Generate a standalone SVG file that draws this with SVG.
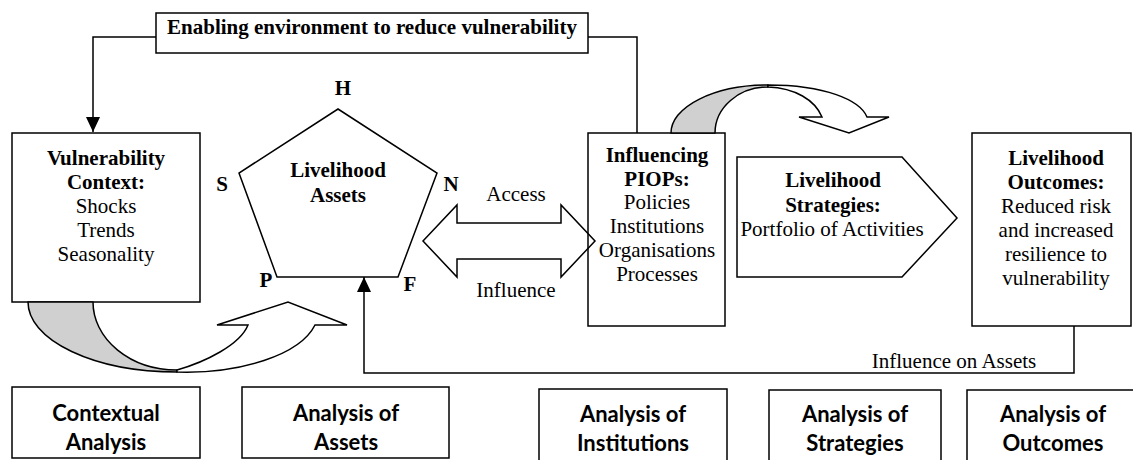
<svg xmlns="http://www.w3.org/2000/svg" width="1133" height="460" viewBox="0 0 1133 460">
  <style>
    .box { fill: #fff; stroke: #000; stroke-width: 1.5; }
    .ln { fill: none; stroke: #000; stroke-width: 1.5; }
    .shade { fill: #d0d0d0; stroke: #000; stroke-width: 1.5; stroke-linejoin: round; }
    .curl { fill: #fff; stroke: #000; stroke-width: 1.5; stroke-linejoin: miter; }
    .t { font-family: "Liberation Serif", "Times New Roman", serif; font-size: 21px; text-anchor: middle; fill: #000; }
    .b { font-weight: bold; }
    .a { font-family: Lato, "Liberation Sans", sans-serif; font-size: 22px; font-weight: bold; text-anchor: middle; fill: #000; }
  </style>
  <defs>
    <marker id="head" markerUnits="userSpaceOnUse" markerWidth="15" markerHeight="14" refX="15" refY="7" orient="auto">
      <path d="M0,0 L15,7 L0,14 Z" fill="#000"/>
    </marker>
  </defs>

  <rect width="1133" height="460" fill="#fff"/>

  <!-- connectors -->
  <g id="connectors">
    <path class="ln" d="M156,37 H93 V132" marker-end="url(#head)"/>
    <path class="ln" d="M588,37 H637 V133"/>
    <path class="ln" d="M1074,326 V373 H364 V277" marker-end="url(#head)"/>
  </g>

  <g id="enabling">
    <rect class="box" x="156" y="13" width="432" height="40"/>
    <text class="t b" x="372" y="34">Enabling environment to reduce vulnerability</text>
  </g>

  <g id="vulnerability">
    <rect class="box" x="12" y="133" width="188" height="169"/>
    <text class="t b" x="106" y="165">Vulnerability</text>
    <text class="t b" x="106" y="189">Context:</text>
    <text class="t" x="106" y="213">Shocks</text>
    <text class="t" x="106" y="237">Trends</text>
    <text class="t" x="106" y="261">Seasonality</text>
  </g>

  <!-- curved arrow from vulnerability context towards assets -->
  <g id="curl-assets">
    <path class="shade" d="M28,302 A149,70 0 0 0 177,372 L177,370 A84,68 0 0 1 93,302 Z"/>
    <path class="curl" d="M177,370 C205,362 240,345 248,325 L217,325 L288,302 L347,325 L315,325 C300,355 240,374 177,372 Z"/>
  </g>

  <g id="assets">
    <polygon class="box" points="338,109 437,173 398,277 277,277 239,173"/>
    <text class="t b" x="338" y="177">Livelihood</text>
    <text class="t b" x="338" y="202">Assets</text>
    <text class="t b" x="343" y="95">H</text>
    <text class="t b" x="222" y="191">S</text>
    <text class="t b" x="451" y="191">N</text>
    <text class="t b" x="266" y="287">P</text>
    <text class="t b" x="410" y="291">F</text>
  </g>

  <g id="piops">
    <rect class="box" x="588" y="133" width="137" height="193"/>
    <text class="t b" x="657" y="162">Influencing</text>
    <text class="t b" x="657" y="186">PIOPs:</text>
    <text class="t" x="657" y="209">Policies</text>
    <text class="t" x="657" y="233">Institutions</text>
    <text class="t" x="657" y="257">Organisations</text>
    <text class="t" x="657" y="281">Processes</text>
  </g>

  <g id="access">
    <polygon class="ln" points="423,241 457,205 457,223 561,223 561,205 595,241 561,277 561,259 457,259 457,277"/>
    <text class="t" x="516" y="201">Access</text>
    <text class="t" x="516" y="297">Influence</text>
  </g>

  <!-- curved arrow from PIOPs towards strategies -->
  <g id="curl-strategies">
    <path class="shade" d="M671,133 A97,48 0 0 1 768,85 L768,87 A53,46 0 0 0 715,133 Z"/>
    <path class="curl" d="M768,85 C825,85 860,100 867,117 L889,117 L849,133 L799,117 L822,117 C815,100 795,88 768,87 Z"/>
  </g>

  <g id="strategies">
    <polygon class="box" points="737,157 902,157 957,218 902,277 737,277"/>
    <text class="t b" x="833" y="187">Livelihood</text>
    <text class="t b" x="833" y="212">Strategies:</text>
    <text class="t" x="832" y="236">Portfolio of Activities</text>
  </g>

  <g id="outcomes">
    <rect class="box" x="972" y="133" width="159" height="193"/>
    <text class="t b" x="1056" y="165">Livelihood</text>
    <text class="t b" x="1056" y="189">Outcomes:</text>
    <text class="t" x="1056" y="213">Reduced risk</text>
    <text class="t" x="1056" y="237">and increased</text>
    <text class="t" x="1056" y="261">resilience to</text>
    <text class="t" x="1056" y="285">vulnerability</text>
  </g>

  <text class="t" x="954" y="368">Influence on Assets</text>

  <g id="analysis-context">
    <rect class="box" x="12" y="387" width="188" height="71"/>
    <text class="a" x="106" y="421">Contextual</text>
    <text class="a" x="106" y="450">Analysis</text>
  </g>
  <g id="analysis-assets">
    <rect class="box" x="242" y="387" width="207" height="71"/>
    <text class="a" x="346" y="421">Analysis of</text>
    <text class="a" x="346" y="450">Assets</text>
  </g>
  <g id="analysis-institutions">
    <rect class="box" x="539" y="389" width="188" height="75"/>
    <text class="a" x="633" y="422">Analysis of</text>
    <text class="a" x="633" y="451">Institutions</text>
  </g>
  <g id="analysis-strategies">
    <rect class="box" x="769" y="390" width="172" height="75"/>
    <text class="a" x="855" y="422">Analysis of</text>
    <text class="a" x="855" y="451">Strategies</text>
  </g>
  <g id="analysis-outcomes">
    <rect class="box" x="967" y="390" width="175" height="75"/>
    <text class="a" x="1053" y="422">Analysis of</text>
    <text class="a" x="1053" y="451">Outcomes</text>
  </g>
</svg>
